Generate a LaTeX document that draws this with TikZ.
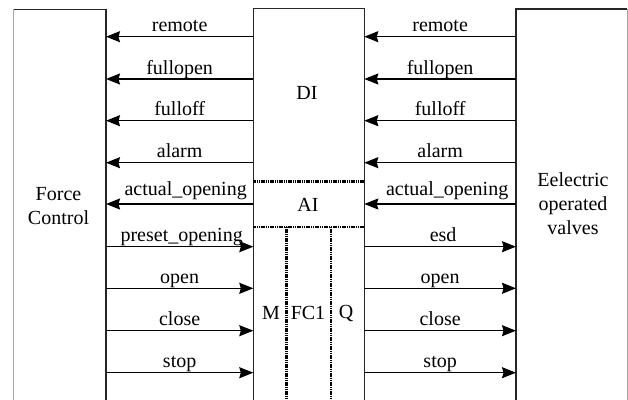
\documentclass[tikz,border=0pt]{standalone}
\usepackage{fontspec}
\setmainfont{Liberation Serif}
\usetikzlibrary{arrows.meta}

\begin{document}
\begin{tikzpicture}[x=1pt,y=-1pt,
  box/.style={line width=1.5pt,draw=black!85},
  crop/.style={line width=0.8pt,draw=black!35},
  sig/.style={line width=1.3pt,-{Stealth[length=14pt,width=11pt,inset=1.5pt]}},
  sep/.style={line width=2.4pt,dash pattern=on 1.2pt off 0.6pt},
  lbl/.style={font=\fontsize{20}{24}\selectfont,anchor=base,yshift=5pt,inner sep=0pt},
  txt/.style={font=\fontsize{20}{24}\selectfont,align=center,inner sep=0pt}]
 \useasboundingbox (0,0) rectangle (628,399);
 \clip (0,0) rectangle (628,399);

 % box corners and rows
 \coordinate (fcNW) at (13.3,9.3);
 \coordinate (fcNE) at (106,9.3);
 \coordinate (ioNW) at (253.3,8.7);
 \coordinate (ioNE) at (364.3,8.7);
 \coordinate (evNW) at (516,9);
 \coordinate (evNE) at (627,9);
 \coordinate (bot) at (0,410);
 \coordinate (aiTop) at (0,181.5);
 \coordinate (aiBot) at (0,226.7);
 \coordinate (mSep) at (286.3,0);
 \coordinate (qSep) at (330.7,0);
 \coordinate (r1) at (0,36.7);
 \coordinate (r2) at (0,79);
 \coordinate (r3) at (0,120.7);
 \coordinate (r4) at (0,162.7);
 \coordinate (r5) at (0,204);
 \coordinate (r6) at (0,246.7);
 \coordinate (r7) at (0,288.3);
 \coordinate (r8) at (0,330.7);
 \coordinate (r9) at (0,372.7);

 % boxes
 \draw[box] (fcNE |- bot) -- (fcNE) -- (fcNW);
 \draw[crop] (fcNW) -- (fcNW |- bot);
 \draw[box] (ioNW |- bot) -- (ioNW) -- (ioNE) -- (ioNE |- bot);
 \draw[box] (evNW |- bot) -- (evNW) -- (evNE);
 \draw[crop] (evNE) -- (evNE |- bot);
 \draw[sep] (ioNW |- aiTop) -- (ioNE |- aiTop);
 \draw[sep] (ioNW |- aiBot) -- (ioNE |- aiBot);
 \draw[sep] (mSep |- aiBot) -- (mSep |- bot);
 \draw[sep] (qSep |- aiBot) -- (qSep |- bot);

 \node[txt] (fc) at (58.5,206.5) {\fontsize{20}{25}\selectfont Force\\Control};
 \node[txt] (ev) at (573,203.5) {\fontsize{20}{24.5}\selectfont Eelectric\\operated\\valves};
 \node[txt] (di) at (307,93) {DI};
 \node[txt] (ai) at (308,205) {AI};
 \node[txt] (m) at (271,313) {M};
 \node[txt] (fcone) at (308,313) {FC1};
 \node[txt] (q) at (346,313) {Q};

 % force control <-> DI/AI/M
 \draw[sig] (ioNW |- r1) -- (fcNE |- r1) node[lbl,midway] (lremote) {remote};
 \draw[sig] (ioNW |- r2) -- (fcNE |- r2) node[lbl,midway] (lfullopen) {fullopen};
 \draw[sig] (ioNW |- r3) -- (fcNE |- r3) node[lbl,midway] (lfulloff) {fulloff};
 \draw[sig] (ioNW |- r4) -- (fcNE |- r4) node[lbl,midway] (lalarm) {alarm};
 \draw[sig] (ioNW |- r5) -- (fcNE |- r5) node[lbl,midway,xshift=6pt,yshift=4pt] (lactual) {actual\_opening};
 \draw[sig] (fcNE |- r6) -- (ioNW |- r6) node[lbl,midway,xshift=2pt] (lpreset) {preset\_opening};
 \draw[sig] (fcNE |- r7) -- (ioNW |- r7) node[lbl,midway] (lopen) {open};
 \draw[sig] (fcNE |- r8) -- (ioNW |- r8) node[lbl,midway] (lclose) {close};
 \draw[sig] (fcNE |- r9) -- (ioNW |- r9) node[lbl,midway] (lstop) {stop};

 % valves <-> DI/AI/Q
 \draw[sig] (evNW |- r1) -- (ioNE |- r1) node[lbl,midway] (rremote) {remote};
 \draw[sig] (evNW |- r2) -- (ioNE |- r2) node[lbl,midway] (rfullopen) {fullopen};
 \draw[sig] (evNW |- r3) -- (ioNE |- r3) node[lbl,midway] (rfulloff) {fulloff};
 \draw[sig] (evNW |- r4) -- (ioNE |- r4) node[lbl,midway] (ralarm) {alarm};
 \draw[sig] (evNW |- r5) -- (ioNE |- r5) node[lbl,midway,xshift=7pt,yshift=4pt] (ractual) {actual\_opening};
 \draw[sig] (ioNE |- r6) -- (evNW |- r6) node[lbl,midway,xshift=3pt] (resd) {esd};
 \draw[sig] (ioNE |- r7) -- (evNW |- r7) node[lbl,midway] (ropen) {open};
 \draw[sig] (ioNE |- r8) -- (evNW |- r8) node[lbl,midway] (rclose) {close};
 \draw[sig] (ioNE |- r9) -- (evNW |- r9) node[lbl,midway] (rstop) {stop};
\end{tikzpicture}
\end{document}
